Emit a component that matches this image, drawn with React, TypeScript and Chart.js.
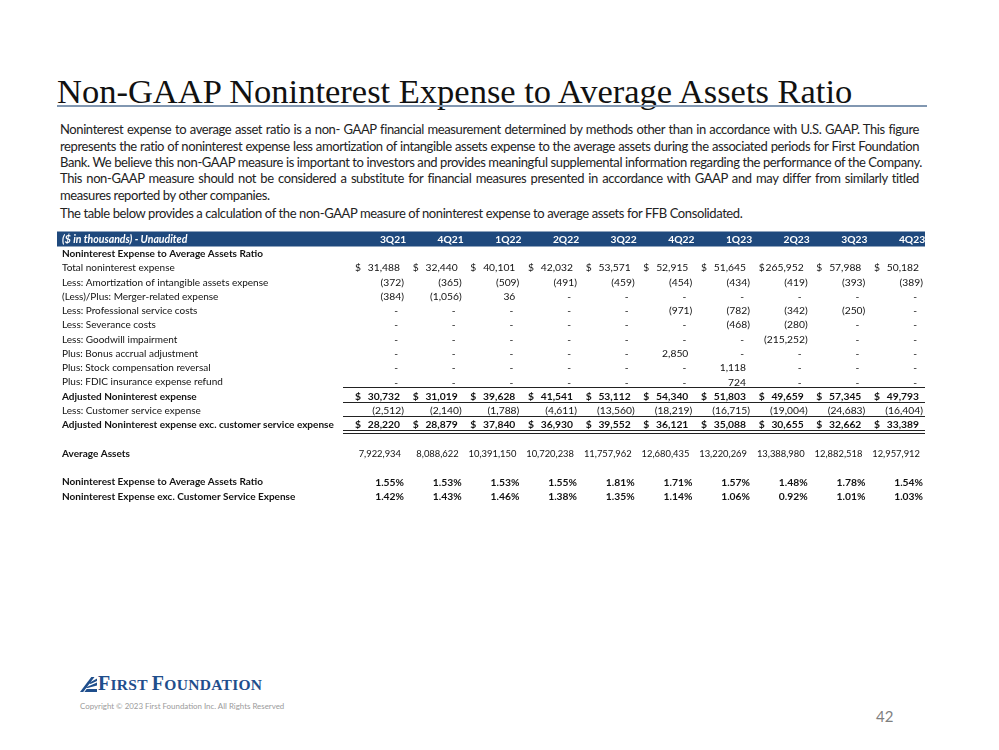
import React, { useEffect, useRef } from "react";
import { Chart, registerables } from "chart.js";

Chart.register(...registerables);

const TITLE = "Non-GAAP Noninterest Expense to Average Assets Ratio";
const PARAGRAPH_LINES = [
  "Noninterest expense to average asset ratio is a non- GAAP financial measurement determined by methods other than in accordance with U.S. GAAP.  This figure",
  "represents the ratio of noninterest expense less amortization of intangible assets expense to the average assets during the associated periods for First Foundation",
  "Bank. We believe this non-GAAP measure is important to investors and  provides meaningful supplemental information regarding the performance of the Company.",
  "This non-GAAP measure should not be considered a substitute for financial measures presented in accordance with GAAP and may differ from similarly titled",
  "measures reported by other companies.",
];
const PARAGRAPH_2 =
  "The table below provides a calculation of the non-GAAP measure of noninterest expense to average assets for FFB Consolidated.";

const HEADER_LABEL = "($ in thousands) - Unaudited";
const QUARTERS = ["3Q21", "4Q21", "1Q22", "2Q22", "3Q22", "4Q22", "1Q23", "2Q23", "3Q23", "4Q23"];

const ROW_LABELS = [
  HEADER_LABEL,
  "Noninterest Expense to Average Assets Ratio",
  "Total noninterest expense",
  "Less: Amortization of intangible assets expense",
  "(Less)/Plus: Merger-related expense",
  "Less: Professional service costs",
  "Less: Severance costs",
  "Less: Goodwill impairment",
  "Plus: Bonus accrual adjustment",
  "Plus: Stock compensation reversal",
  "Plus: FDIC insurance expense refund",
  "Adjusted Noninterest expense",
  "Less: Customer service expense",
  "Adjusted Noninterest expense exc. customer service expense",
  "",
  "Average Assets",
  "",
  "Noninterest Expense to Average Assets Ratio",
  "Noninterest Expense exc. Customer Service Expense",
];
const BOLD_ROWS = [1, 11, 13, 15, 17, 18];

const TOTAL_NONINTEREST = [31488, 32440, 40101, 42032, 53571, 52915, 51645, 265952, 57988, 50182];
const AMORTIZATION = [-372, -365, -509, -491, -459, -454, -434, -419, -393, -389];
const MERGER = [-384, -1056, 36, null, null, null, null, null, null, null];
const PROFESSIONAL = [null, null, null, null, null, -971, -782, -342, -250, null];
const SEVERANCE = [null, null, null, null, null, null, -468, -280, null, null];
const GOODWILL = [null, null, null, null, null, null, null, -215252, null, null];
const BONUS = [null, null, null, null, null, 2850, null, null, null, null];
const STOCK_COMP = [null, null, null, null, null, null, 1118, null, null, null];
const FDIC = [null, null, null, null, null, null, 724, null, null, null];
const ADJUSTED = [30732, 31019, 39628, 41541, 53112, 54340, 51803, 49659, 57345, 49793];
const CUSTOMER_SERVICE = [-2512, -2140, -1788, -4611, -13560, -18219, -16715, -19004, -24683, -16404];
const ADJUSTED_EXC = [28220, 28879, 37840, 36930, 39552, 36121, 35088, 30655, 32662, 33389];
const AVERAGE_ASSETS = [7922934, 8088622, 10391150, 10720238, 11757962, 12680435, 13220269, 13388980, 12882518, 12957912];
const RATIO = [1.55, 1.53, 1.53, 1.55, 1.81, 1.71, 1.57, 1.48, 1.78, 1.54];
const RATIO_EXC = [1.42, 1.43, 1.46, 1.38, 1.35, 1.14, 1.06, 0.92, 1.01, 1.03];

type Fmt = "dollar" | "plain" | "assets" | "pct";
const SERIES: { row: number; values: (number | null)[]; fmt: Fmt; bold: boolean }[] = [
  { row: 2, values: TOTAL_NONINTEREST, fmt: "dollar", bold: false },
  { row: 3, values: AMORTIZATION, fmt: "plain", bold: false },
  { row: 4, values: MERGER, fmt: "plain", bold: false },
  { row: 5, values: PROFESSIONAL, fmt: "plain", bold: false },
  { row: 6, values: SEVERANCE, fmt: "plain", bold: false },
  { row: 7, values: GOODWILL, fmt: "plain", bold: false },
  { row: 8, values: BONUS, fmt: "plain", bold: false },
  { row: 9, values: STOCK_COMP, fmt: "plain", bold: false },
  { row: 10, values: FDIC, fmt: "plain", bold: false },
  { row: 11, values: ADJUSTED, fmt: "dollar", bold: true },
  { row: 12, values: CUSTOMER_SERVICE, fmt: "plain", bold: false },
  { row: 13, values: ADJUSTED_EXC, fmt: "dollar", bold: true },
  { row: 15, values: AVERAGE_ASSETS, fmt: "assets", bold: false },
  { row: 17, values: RATIO, fmt: "pct", bold: true },
  { row: 18, values: RATIO_EXC, fmt: "pct", bold: true },
];

const NAVY = "#1F497D";
const TABLE_FONT = "Lato, 'Noto Sans', sans-serif";
const FS = 10;

const fmtNum = (v: number) => Math.abs(v).toLocaleString("en-US");

const tablePlugin = {
  id: "tablePlugin",
  afterDatasetsDraw(chart: any) {
    const ctx = chart.ctx as CanvasRenderingContext2D;
    const xs = chart.scales.x;
    const ys = chart.scales.y;
    const labelX = 12;
    const barLeft = 7;
    const barRight = xs.getPixelForValue(QUARTERS.length - 1) + 2;
    ctx.save();
    ctx.textBaseline = "middle";

    // header bar
    const hy = ys.getPixelForValue(0);
    ctx.fillStyle = NAVY;
    ctx.fillRect(barLeft, hy - 7.5, barRight - barLeft, 15);
    ctx.fillStyle = "#ffffff";
    ctx.font = `italic bold ${FS + 0.5}px ${TABLE_FONT}`;
    ctx.textAlign = "left";
    ctx.fillText(HEADER_LABEL, labelX, hy + 0.5);
    ctx.font = `bold ${FS + 0.3}px ${TABLE_FONT}`;
    ctx.textAlign = "center";
    QUARTERS.forEach((q, i) => {
      ctx.fillText(q, xs.getPixelForValue(i) - 11, hy + 0.5);
    });

    // row labels
    ctx.fillStyle = "#111111";
    ctx.textAlign = "left";
    ROW_LABELS.forEach((lab, r) => {
      if (r === 0 || !lab) return;
      ctx.font = `${BOLD_ROWS.includes(r) ? "bold " : ""}${FS}px ${TABLE_FONT}`;
      ctx.fillText(lab, labelX, ys.getPixelForValue(r) + 0.5);
    });

    // values via dataset elements
    chart.data.datasets.forEach((ds: any, di: number) => {
      const meta = chart.getDatasetMeta(di);
      const s = SERIES[di];
      const size = s.fmt === "assets" ? FS - 0.6 : FS + 0.3;
      ctx.font = `${s.bold ? "bold " : ""}${size}px ${TABLE_FONT}`;
      meta.data.forEach((el: any, i: number) => {
        const v = s.values[i];
        const ex = el.x;
        const ey = el.y + 0.5;
        ctx.fillStyle = "#111111";
        if (s.fmt === "dollar") {
          ctx.textAlign = "left";
          ctx.fillText("$", ex - 49, ey);
          ctx.textAlign = "right";
          ctx.fillText(fmtNum(v as number), ex - 4, ey);
        } else if (s.fmt === "plain") {
          ctx.textAlign = "right";
          if (v === null) ctx.fillText("-", ex - 6, ey);
          else if (v < 0) ctx.fillText(`(${fmtNum(v)})`, ex, ey);
          else ctx.fillText(fmtNum(v), ex - 4, ey);
        } else if (s.fmt === "assets") {
          ctx.textAlign = "right";
          ctx.fillText(fmtNum(v as number), ex - 3, ey);
        } else {
          ctx.textAlign = "right";
          ctx.fillText(`${(v as number).toFixed(2)}%`, ex, ey);
        }
      });
    });

    // rules
    const lx0 = xs.getPixelForValue(0) - 61;
    const lx1 = barRight;
    ctx.strokeStyle = "#222222";
    ctx.lineWidth = 1;
    const hline = (y: number) => {
      ctx.beginPath();
      ctx.moveTo(lx0, Math.round(y) + 0.5);
      ctx.lineTo(lx1, Math.round(y) + 0.5);
      ctx.stroke();
    };
    hline(ys.getPixelForValue(11) - 9);
    hline(ys.getPixelForValue(11) + 5.5);
    hline(ys.getPixelForValue(12) + 6);
    hline(ys.getPixelForValue(13) + 5.5);
    hline(ys.getPixelForValue(13) + 8);
    ctx.restore();
  },
};

function TableChart() {
  const ref = useRef<HTMLCanvasElement | null>(null);
  useEffect(() => {
    if (!ref.current) return;
    const chart = new Chart(ref.current, {
      type: "scatter",
      data: {
        datasets: SERIES.map((s) => ({
          label: ROW_LABELS[s.row],
          data: s.values.map((_, i) => ({ x: i, y: s.row })),
          pointRadius: 0,
          pointHoverRadius: 0,
        })),
      },
      options: {
        animation: false,
        responsive: false,
        events: [],
        layout: { padding: { left: 354, right: 17, top: 14, bottom: 14 } },
        scales: {
          x: { type: "linear", min: 0, max: QUARTERS.length - 1, display: false },
          y: { type: "linear", min: 0, max: ROW_LABELS.length - 1, reverse: true, display: false },
        },
        plugins: { legend: { display: false }, tooltip: { enabled: false } },
      },
      plugins: [tablePlugin],
    } as any);
    return () => chart.destroy();
  }, []);
  return (
    <canvas
      ref={ref}
      width={890}
      height={285}
      style={{ position: "absolute", left: 50, top: 225, width: 890, height: 285, display: "block" }}
    />
  );
}

export default function App() {
  const paraStyle: React.CSSProperties = {
    position: "absolute",
    left: 60,
    width: 859,
    height: 16,
    lineHeight: "16px",
    fontFamily: "Lato, sans-serif",
    fontSize: 13,
    letterSpacing: -0.4,
    color: "#222222",
    whiteSpace: "nowrap",
  };
  const centers = [129, 145.5, 162, 178.2, 194.5];
  const capStyle = (size: number): React.CSSProperties => ({ fontSize: size });
  return (
    <div
      style={{
        position: "absolute",
        left: 0,
        top: 0,
        width: 999,
        height: 750,
        background: "#ffffff",
        overflow: "hidden",
      }}
    >
      <div
        style={{
          position: "absolute",
          left: 57,
          top: 74,
          fontFamily: "'Liberation Serif', serif",
          fontSize: 34.5,
          lineHeight: "34px",
          color: "#111111",
          whiteSpace: "nowrap",
        }}
      >
        {TITLE}
      </div>
      <div style={{ position: "absolute", left: 57, top: 105, width: 870, height: 2, background: "#8197b1" }} />
      {PARAGRAPH_LINES.map((t, i) => (
        <div
          key={i}
          style={{
            ...paraStyle,
            top: centers[i] - 8,
            textAlign: i < 4 ? "justify" : "left",
            textAlignLast: i < 4 ? "justify" : "left",
          }}
        >
          {t}
        </div>
      ))}
      <div style={{ ...paraStyle, top: 212.5 - 8 }}>{PARAGRAPH_2}</div>
      <TableChart />
      <div style={{ position: "absolute", left: 80, top: 676, height: 18, display: "flex", alignItems: "flex-end" }}>
        <svg width="17" height="15" viewBox="0 0 17 15" style={{ marginRight: 1, marginBottom: 2 }}>
          <polygon points="0,15 3.2,15 14.5,0 11.3,0" fill="#1f4e8c" />
          <polygon points="4.4,15 17,15 17,12 6.7,12" fill="#1f4e8c" />
          <polygon points="5.5,10.5 17,5.5 17,8.5 7.6,11" fill="#1f4e8c" />
          <polygon points="9,6 17,1.5 17,4 10.5,7" fill="#1f4e8c" />
        </svg>
        <span
          style={{
            fontFamily: "'Liberation Serif', serif",
            fontWeight: "bold",
            lineHeight: "18px",
            color: "#1f4e8c",
            whiteSpace: "nowrap",
            letterSpacing: 0.3,
          }}
        >
          <span style={capStyle(20)}>F</span>
          <span style={capStyle(15.5)}>IRST </span>
          <span style={capStyle(20)}>F</span>
          <span style={capStyle(15.5)}>OUNDATION</span>
        </span>
      </div>
      <div
        style={{
          position: "absolute",
          left: 80,
          top: 700,
          fontFamily: "Lato, sans-serif",
          fontSize: 7.9,
          lineHeight: "12px",
          color: "#9a9a9a",
          whiteSpace: "nowrap",
        }}
      >
        Copyright © 2023 First Foundation Inc. All Rights Reserved
      </div>
      <div
        style={{
          position: "absolute",
          left: 876,
          top: 707,
          fontFamily: "Lato, sans-serif",
          fontSize: 15,
          lineHeight: "18px",
          color: "#7f7f7f",
        }}
      >
        42
      </div>
    </div>
  );
}
